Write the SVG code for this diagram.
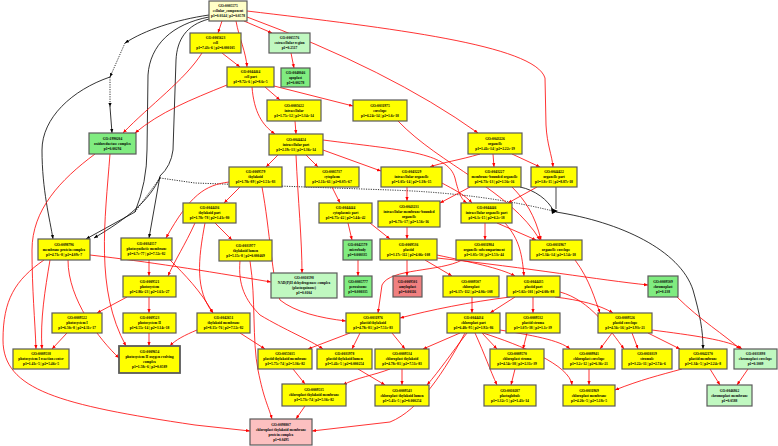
<svg xmlns="http://www.w3.org/2000/svg" width="778" height="446" viewBox="0 0 778 446">
<style>
rect{stroke:#5a5a5a;stroke-width:1.2}
.y{fill:#ffff00}.ly{fill:#ffffc8}.g{fill:#80ec80}.lg{fill:#c0f8c0}.s{fill:#f08080}.p{fill:#fcc0c0}
text{font-family:"Liberation Serif","Times New Roman",serif;font-size:3.6px;font-weight:bold;text-anchor:middle;fill:#000}
.r{fill:none;stroke:#ff0000;stroke-width:0.8;marker-end:url(#ar)}
.k{fill:none;stroke:#000;stroke-width:0.8}
.ka{marker-end:url(#ak)}
.d{stroke-dasharray:1.2 1.2}
</style>
<defs>
<marker id="ar" viewBox="0 0 10 10" refX="10" refY="5" markerWidth="4" markerHeight="4" markerUnits="userSpaceOnUse" orient="auto"><path d="M0,1L10,5L0,9z" fill="#ff0000"/></marker>
<marker id="ak" viewBox="0 0 10 10" refX="10" refY="5" markerWidth="4" markerHeight="4" markerUnits="userSpaceOnUse" orient="auto"><path d="M0,1L10,5L0,9z" fill="#000"/></marker>
</defs>
<rect x="0" y="0" width="778" height="446" fill="#fff" style="stroke:none"/>
<g id="edges">
<path class="k ka" d="M209 15 C175 20,145 30,125 43"/>
<path class="k d ka" d="M125 43 L110 77"/>
<path class="k d ka" d="M110 77 L110 107"/>
<path class="k ka" d="M110 107 L112 133"/>
<path class="k ka" d="M110 77 C72 90,42 118,42 150 C42 190,50 220,53 239"/>
<path class="k" d="M209 17 C172 24,150 45,148 75 L147 150 Q147 182,135 212"/>
<path class="k ka" d="M135 212 L86 239"/>
<path class="k" d="M209 19 C186 25,177 40,176 60 L173 150 Q171 166,160 176"/>
<path class="k ka" d="M160 176 L149 238"/>
<path class="k ka" d="M160 177 C150 200,128 218,94 238"/>
<path class="k d" d="M160 178 L135 212"/>
<path class="k d" d="M160 178 L195 183 L390 190 Q480 193,553 211"/>
<path class="k" d="M520 187 C535 190,548 200,553 210"/>
<path class="k" d="M556 187 L556 209" style="stroke:#555;stroke-width:1.1"/>
<path d="M551 208 L558 211 L552 214z" fill="#000"/>
<path class="k ka" d="M556 212 C620 222,680 250,693 290 C700 315,703 330,703 349"/>
<path class="r" d="M222 21 L218 33"/>
<path class="r" d="M244 21 L272 33"/>
<path class="r" d="M236 21 C239 38,246 52,247 67"/>
<path class="r" d="M247 17 Q390 70,478 133"/>
<path class="r" d="M247 11 C390 28,535 45,545 78 L546 125 C547 145,552 155,553 167"/>
<path class="r" d="M222 53 L240 67"/>
<path class="r" d="M202 53 C185 80,150 105,123 133"/>
<path class="r" d="M227 85 C190 100,160 112,135 133"/>
<path class="r" d="M265 87 L280 100"/>
<path class="r" d="M252 87 C254 112,262 125,275 134"/>
<path class="r" d="M274 86 L353 106"/>
<path class="r" d="M291 53 L294 68"/>
<path class="r" d="M295 121 L296 134"/>
<path class="r" d="M398 121 C440 165,510 190,540 240"/>
<path class="r" d="M278 155 L266 167"/>
<path class="r" d="M306 155 L318 167"/>
<path class="r" d="M296 155 C298 200,302 240,302 273"/>
<path class="r" d="M323 150 L381 171"/>
<path class="r" d="M323 140 C400 150,448 152,455 178 C459 195,462 200,467 203"/>
<path class="r" d="M480 154 C460 160,440 163,430 167"/>
<path class="r" d="M493 154 L494 167"/>
<path class="r" d="M512 154 L540 167"/>
<path class="r" d="M240 187 L224 203"/>
<path class="r" d="M229 182 C205 185,190 195,166 238"/>
<path class="r" d="M262 187 C270 230,272 280,280 300 C295 312,320 318,346 321"/>
<path class="r" d="M332 187 L340 203"/>
<path class="r" d="M407 187 L407 201"/>
<path class="r" d="M440 182 C455 190,465 195,472 203"/>
<path class="r" d="M470 187 L440 203"/>
<path class="r" d="M537 187 L508 203"/>
<path class="r" d="M485 223 L485 240"/>
<path class="r" d="M497 223 L536 240"/>
<path class="r" d="M512 187 C525 200,535 215,541 240"/>
<path class="r" d="M348 223 L352 240"/>
<path class="r" d="M370 223 L390 239"/>
<path class="r" d="M407 227 L407 239"/>
<path class="r" d="M505 223 C520 240,522 255,524 276"/>
<path class="r" d="M437 255 C470 262,500 268,515 276"/>
<path class="r" d="M407 260 L407 276"/>
<path class="r" d="M425 260 L452 276"/>
<path class="r" d="M437 258 C530 268,600 280,648 285"/>
<path class="r" d="M358 260 L358 276"/>
<path class="r" d="M462 260 C440 272,390 268,382 285 L378 313"/>
<path class="r" d="M510 297 C470 302,430 310,400 318"/>
<path class="r" d="M472 297 L472 313"/>
<path class="r" d="M515 297 L490 313"/>
<path class="r" d="M533 297 L533 313"/>
<path class="r" d="M555 297 C580 300,600 305,613 313"/>
<path class="r" d="M575 260 C590 280,595 300,600 313"/>
<path class="r" d="M560 292 C590 300,610 330,624 349"/>
<path class="r" d="M677 297 C700 320,725 335,740 349"/>
<path class="r" d="M612 333 L600 349"/>
<path class="r" d="M632 333 L638 349"/>
<path class="r" d="M648 333 L680 349"/>
<path class="r" d="M652 330 C690 335,730 340,742 349"/>
<path class="r" d="M460 333 L423 349"/>
<path class="r" d="M482 333 L497 349"/>
<path class="r" d="M527 333 L523 349"/>
<path class="r" d="M500 330 C530 335,560 340,570 349"/>
<path class="r" d="M475 333 C485 355,490 370,497 385"/>
<path class="r" d="M515 369 L511 385"/>
<path class="r" d="M467 333 C450 355,440 370,427 385"/>
<path class="r" d="M483 333 C520 345,570 365,572 385"/>
<path class="r" d="M465 333 C445 370,420 410,390 422 L312 431"/>
<path class="r" d="M589 369 L589 385"/>
<path class="r" d="M682 369 C660 375,640 380,615 390"/>
<path class="r" d="M710 369 L720 385"/>
<path class="r" d="M748 369 L737 385"/>
<path class="r" d="M402 369 L402 385"/>
<path class="r" d="M390 369 C375 375,355 378,343 385"/>
<path class="r" d="M392 333 L405 349"/>
<path class="r" d="M350 333 L308 349"/>
<path class="r" d="M360 333 L352 349"/>
<path class="r" d="M240 333 L265 349"/>
<path class="r" d="M240 261 C238 285,245 300,260 315 C285 330,310 340,323 349"/>
<path class="r" d="M250 261 C256 300,252 340,258 370 S268 405,272 419"/>
<path class="r" d="M293 369 L305 384"/>
<path class="r" d="M358 369 L385 385"/>
<path class="r" d="M305 406 L296 419"/>
<path class="r" d="M44 260 C15 280,3 300,3 340 C3 390,60 405,195 425 L250 431"/>
<path class="r" d="M90 255 C150 262,200 270,271 282"/>
<path class="r" d="M50 260 C45 290,40 320,42 349"/>
<path class="r" d="M95 154 C60 180,32 210,32 250 C32 290,35 320,36 349"/>
<path class="r" d="M67 333 L52 349"/>
<path class="r" d="M127 297 L97 313"/>
<path class="r" d="M149 297 L149 313"/>
<path class="r" d="M149 260 L149 276"/>
<path class="r" d="M195 223 C185 245,175 260,168 276"/>
<path class="r" d="M170 260 C185 275,200 290,213 313"/>
<path class="r" d="M149 333 L149 346"/>
<path class="r" d="M68 260 C68 300,100 340,119 358"/>
<path class="r" d="M110 154 C105 220,95 290,126 346"/>
<path class="r" d="M197 330 C185 335,175 340,170 346"/>
<path class="r" d="M205 223 C198 260,195 290,213 313"/>
<path class="r" d="M215 223 L232 240"/>
</g>
<g id="GO0005575"><rect class="ly" x="209" y="1" width="38" height="20"/><text x="228"><tspan x="228" y="7.25">GO:0005575</tspan><tspan x="228" y="12.25">cellular_component</tspan><tspan x="228" y="17.25">p1=0.0144 | p2=0.0578</tspan></text></g>
<g id="GO0005623"><rect class="y" x="190" y="33" width="51" height="20"/><text><tspan x="215.5" y="39.25">GO:0005623</tspan><tspan x="215.5" y="44.25">cell</tspan><tspan x="215.5" y="49.25">p1=7.43e-6 | p2=0.000105</tspan></text></g>
<g id="GO0005576"><rect class="lg" x="269" y="33" width="41" height="20"/><text><tspan x="289.5" y="39.25">GO:0005576</tspan><tspan x="289.5" y="44.25">extracellular region</tspan><tspan x="289.5" y="49.25">p1=0.2517</tspan></text></g>
<g id="GO0044464"><rect class="y" x="227" y="67" width="47" height="20"/><text><tspan x="250.5" y="73.25">GO:0044464</tspan><tspan x="250.5" y="78.25">cell part</tspan><tspan x="250.5" y="83.25">p1=9.72e-6 | p2=8.6e-5</tspan></text></g>
<g id="GO0048046"><rect class="g" x="281" y="68" width="29" height="19"/><text><tspan x="295.5" y="73.75">GO:0048046</tspan><tspan x="295.5" y="78.75">apoplast</tspan><tspan x="295.5" y="83.75">p1=0.00278</tspan></text></g>
<g id="GO0005622"><rect class="y" x="267" y="100" width="54" height="21"/><text><tspan x="294" y="106.75">GO:0005622</tspan><tspan x="294" y="111.75">intracellular</tspan><tspan x="294" y="116.75">p1=1.75e-12 | p2=5.34e-14</tspan></text></g>
<g id="GO0031975"><rect class="y" x="353" y="100" width="54" height="21"/><text><tspan x="380" y="106.75">GO:0031975</tspan><tspan x="380" y="111.75">envelope</tspan><tspan x="380" y="116.75">p1=6.24e-14 | p2=1.6e-18</tspan></text></g>
<g id="GO1990204"><rect class="g" x="89" y="133" width="47" height="21"/><text><tspan x="112.5" y="139.75">GO:1990204</tspan><tspan x="112.5" y="144.75">oxidoreductase complex</tspan><tspan x="112.5" y="149.75">p1=0.00294</tspan></text></g>
<g id="GO0044424"><rect class="y" x="269" y="134" width="54" height="21"/><text><tspan x="296" y="140.75">GO:0044424</tspan><tspan x="296" y="145.75">intracellular part</tspan><tspan x="296" y="150.75">p1=2.19e-13 | p2=1.36e-14</tspan></text></g>
<g id="GO0043226"><rect class="y" x="468" y="133" width="54" height="21"/><text><tspan x="495" y="139.75">GO:0043226</tspan><tspan x="495" y="144.75">organelle</tspan><tspan x="495" y="149.75">p1=1.41e-14 | p2=2.22e-19</tspan></text></g>
<g id="GO0009579"><rect class="y" x="229" y="167" width="53" height="20"/><text><tspan x="255.5" y="173.25">GO:0009579</tspan><tspan x="255.5" y="178.25">thylakoid</tspan><tspan x="255.5" y="183.25">p1=1.78e-89 | p2=1.51e-83</tspan></text></g>
<g id="GO0005737"><rect class="y" x="305" y="167" width="54" height="20"/><text><tspan x="332" y="173.25">GO:0005737</tspan><tspan x="332" y="178.25">cytoplasm</tspan><tspan x="332" y="183.25">p1=2.11e-61 | p2=8.07e-67</tspan></text></g>
<g id="GO0043229"><rect class="y" x="381" y="167" width="61" height="20"/><text><tspan x="411.5" y="173.25">GO:0043229</tspan><tspan x="411.5" y="178.25">intracellular organelle</tspan><tspan x="411.5" y="183.25">p1=1.05e-14 | p2=1.18e-15</tspan></text></g>
<g id="GO0043227"><rect class="y" x="468" y="167" width="53" height="20"/><text><tspan x="494.5" y="173.25">GO:0043227</tspan><tspan x="494.5" y="178.25">membrane-bounded organelle</tspan><tspan x="494.5" y="183.25">p1=6.73e-13 | p2=1.56e-16</tspan></text></g>
<g id="GO0044422"><rect class="y" x="531" y="167" width="46" height="20"/><text><tspan x="554" y="173.25">GO:0044422</tspan><tspan x="554" y="178.25">organelle part</tspan><tspan x="554" y="183.25">p1=1.8e-15 | p2=8.87e-18</tspan></text></g>
<g id="GO0044436"><rect class="y" x="183" y="203" width="53" height="20"/><text><tspan x="209.5" y="209.25">GO:0044436</tspan><tspan x="209.5" y="214.25">thylakoid part</tspan><tspan x="209.5" y="219.25">p1=1.78e-78 | p2=1.41e-80</tspan></text></g>
<g id="GO0044444"><rect class="y" x="319" y="203" width="53" height="20"/><text><tspan x="345.5" y="209.25">GO:0044444</tspan><tspan x="345.5" y="214.25">cytoplasmic part</tspan><tspan x="345.5" y="219.25">p1=6.75e-42 | p2=5.44e-42</tspan></text></g>
<g id="GO0043231"><rect class="y" x="378" y="201" width="62" height="26"/><text><tspan x="409" y="207.75">GO:0043231</tspan><tspan x="409" y="212.75">intracellular membrane-bounded</tspan><tspan x="409" y="217.75">organelle</tspan><tspan x="409" y="222.75">p1=6.73e-17 | p2=1.56e-16</tspan></text></g>
<g id="GO0044446"><rect class="y" x="461" y="203" width="51" height="20"/><text><tspan x="486.5" y="209.25">GO:0044446</tspan><tspan x="486.5" y="214.25">intracellular organelle part</tspan><tspan x="486.5" y="219.25">p1=6.1e-15 | p2=6.2e-18</tspan></text></g>
<g id="GO0098796"><rect class="y" x="38" y="239" width="52" height="21"/><text><tspan x="64" y="245.75">GO:0098796</tspan><tspan x="64" y="250.75">membrane protein complex</tspan><tspan x="64" y="255.75">p1=4.71e-8 | p2=4.09e-7</tspan></text></g>
<g id="GO0034357"><rect class="y" x="121" y="238" width="51" height="22"/><text><tspan x="146.5" y="245.25">GO:0034357</tspan><tspan x="146.5" y="250.25">photosynthetic membrane</tspan><tspan x="146.5" y="255.25">p1=6.7e-77 | p2=7.52e-82</tspan></text></g>
<g id="GO0031977"><rect class="y" x="219" y="240" width="53" height="21"/><text><tspan x="245.5" y="246.75">GO:0031977</tspan><tspan x="245.5" y="251.75">thylakoid lumen</tspan><tspan x="245.5" y="256.75">p1=5.15e-8 | p2=0.000469</tspan></text></g>
<g id="GO0042579"><rect class="g" x="343" y="240" width="29" height="20"/><text><tspan x="357.5" y="246.25">GO:0042579</tspan><tspan x="357.5" y="251.25">microbody</tspan><tspan x="357.5" y="256.25">p1=0.000335</tspan></text></g>
<g id="GO0009536"><rect class="y" x="380" y="239" width="57" height="21"/><text><tspan x="408.5" y="245.75">GO:0009536</tspan><tspan x="408.5" y="250.75">plastid</tspan><tspan x="408.5" y="255.75">p1=3.17e-112 | p2=4.06e-108</tspan></text></g>
<g id="GO0031984"><rect class="y" x="456" y="240" width="56" height="20"/><text><tspan x="484" y="246.25">GO:0031984</tspan><tspan x="484" y="251.25">organelle subcompartment</tspan><tspan x="484" y="256.25">p1=1.05e-50 | p2=1.53e-44</tspan></text></g>
<g id="GO0031967"><rect class="y" x="530" y="240" width="52" height="20"/><text><tspan x="556" y="246.25">GO:0031967</tspan><tspan x="556" y="251.25">organelle envelope</tspan><tspan x="556" y="256.25">p1=5.34e-14 | p2=1.54e-18</tspan></text></g>
<g id="GO0009521"><rect class="y" x="123" y="276" width="53" height="21"/><text><tspan x="149.5" y="282.75">GO:0009521</tspan><tspan x="149.5" y="287.75">photosystem</tspan><tspan x="149.5" y="292.75">p1=2.86e-23 | p2=1.61e-27</tspan></text></g>
<g id="GO0010598"><rect class="lg" x="271" y="273" width="66" height="25"/><text><tspan x="304" y="279.25">GO:0010598</tspan><tspan x="304" y="284.25">NAD(P)H dehydrogenase complex</tspan><tspan x="304" y="289.25">(plastoquinone)</tspan><tspan x="304" y="294.25">p1=0.0104</tspan></text></g>
<g id="GO0005777"><rect class="g" x="344" y="276" width="28" height="21"/><text><tspan x="358" y="282.75">GO:0005777</tspan><tspan x="358" y="287.75">peroxisome</tspan><tspan x="358" y="292.75">p1=0.000335</tspan></text></g>
<g id="GO0009501"><rect class="s" x="393" y="276" width="29" height="21"/><text><tspan x="407.5" y="282.75">GO:0009501</tspan><tspan x="407.5" y="287.75">amyloplast</tspan><tspan x="407.5" y="292.75">p1=0.00116</tspan></text></g>
<g id="GO0009507"><rect class="y" x="443" y="276" width="56" height="21"/><text><tspan x="471" y="282.75">GO:0009507</tspan><tspan x="471" y="287.75">chloroplast</tspan><tspan x="471" y="292.75">p1=6.17e-112 | p2=4.06e-108</tspan></text></g>
<g id="GO0044435"><rect class="y" x="507" y="276" width="53" height="21"/><text><tspan x="533.5" y="282.75">GO:0044435</tspan><tspan x="533.5" y="287.75">plastid part</tspan><tspan x="533.5" y="292.75">p1=5.02e-101 | p2=4.08e-88</tspan></text></g>
<g id="GO0009509"><rect class="g" x="648" y="276" width="30" height="21"/><text><tspan x="663" y="282.75">GO:0009509</tspan><tspan x="663" y="287.75">chromoplast</tspan><tspan x="663" y="292.75">p1=0.138</tspan></text></g>
<g id="GO0009522"><rect class="y" x="52" y="313" width="50" height="20"/><text><tspan x="77" y="319.25">GO:0009522</tspan><tspan x="77" y="324.25">photosystem I</tspan><tspan x="77" y="329.25">p1=6.50e-8 | p2=4.11e-17</tspan></text></g>
<g id="GO0009523"><rect class="y" x="123" y="313" width="53" height="20"/><text><tspan x="149.5" y="319.25">GO:0009523</tspan><tspan x="149.5" y="324.25">photosystem II</tspan><tspan x="149.5" y="329.25">p1=6.55e-14 | p2=3.14e-18</tspan></text></g>
<g id="GO0042651"><rect class="y" x="197" y="313" width="53" height="20"/><text><tspan x="223.5" y="319.25">GO:0042651</tspan><tspan x="223.5" y="324.25">thylakoid membrane</tspan><tspan x="223.5" y="329.25">p1=8.15e-76 | p2=7.52e-82</tspan></text></g>
<g id="GO0031976"><rect class="y" x="346" y="313" width="54" height="20"/><text><tspan x="373" y="319.25">GO:0031976</tspan><tspan x="373" y="324.25">plastid thylakoid</tspan><tspan x="373" y="329.25">p1=4.78e-81 | p2=7.51e-83</tspan></text></g>
<g id="GO0044434"><rect class="y" x="447" y="313" width="53" height="20"/><text><tspan x="473.5" y="319.25">GO:0044434</tspan><tspan x="473.5" y="324.25">chloroplast part</tspan><tspan x="473.5" y="329.25">p1=6.48e-95 | p2=1.92e-86</tspan></text></g>
<g id="GO0009532"><rect class="y" x="506" y="313" width="54" height="20"/><text><tspan x="533" y="319.25">GO:0009532</tspan><tspan x="533" y="324.25">plastid stroma</tspan><tspan x="533" y="329.25">p1=1.07e-38 | p2=1.1e-39</tspan></text></g>
<g id="GO0009526"><rect class="y" x="598" y="313" width="54" height="20"/><text><tspan x="625" y="319.25">GO:0009526</tspan><tspan x="625" y="324.25">plastid envelope</tspan><tspan x="625" y="329.25">p1=4.56e-16 | p2=1.93e-21</tspan></text></g>
<g id="GO0009538"><rect class="y" x="13" y="349" width="56" height="20"/><text><tspan x="41" y="355.25">GO:0009538</tspan><tspan x="41" y="360.25">photosystem I reaction center</tspan><tspan x="41" y="365.25">p1=1.41e-5 | p2=5.46e-5</tspan></text></g>
<g id="GO0009654"><rect class="y" x="119" y="346" width="61" height="27" style="stroke-width:1.8"/><text><tspan x="149.5" y="353.25">GO:0009654</tspan><tspan x="149.5" y="358.25">photosystem II oxygen evolving</tspan><tspan x="149.5" y="363.25">complex</tspan><tspan x="149.5" y="368.25">p1=1.58e-6 | p2=0.0589</tspan></text></g>
<g id="GO0055035"><rect class="y" x="258" y="349" width="54" height="20"/><text><tspan x="285" y="355.25">GO:0055035</tspan><tspan x="285" y="360.25">plastid thylakoid membrane</tspan><tspan x="285" y="365.25">p1=5.75e-74 | p2=5.36e-82</tspan></text></g>
<g id="GO0031978"><rect class="y" x="317" y="349" width="55" height="20"/><text><tspan x="344.5" y="355.25">GO:0031978</tspan><tspan x="344.5" y="360.25">plastid thylakoid lumen</tspan><tspan x="344.5" y="365.25">p1=5.41e-5 | p2=0.000254</tspan></text></g>
<g id="GO0009534"><rect class="y" x="375" y="349" width="54" height="20"/><text><tspan x="402" y="355.25">GO:0009534</tspan><tspan x="402" y="360.25">chloroplast thylakoid</tspan><tspan x="402" y="365.25">p1=4.78e-81 | p2=7.51e-83</tspan></text></g>
<g id="GO0009570"><rect class="y" x="490" y="349" width="54" height="20"/><text><tspan x="517" y="355.25">GO:0009570</tspan><tspan x="517" y="360.25">chloroplast stroma</tspan><tspan x="517" y="365.25">p1=4.54e-38 | p2=2.31e-39</tspan></text></g>
<g id="GO0009941"><rect class="y" x="563" y="349" width="52" height="20"/><text><tspan x="589" y="355.25">GO:0009941</tspan><tspan x="589" y="360.25">chloroplast envelope</tspan><tspan x="589" y="365.25">p1=3.2e-12 | p2=6.36e-21</tspan></text></g>
<g id="GO0010319"><rect class="y" x="622" y="349" width="50" height="20"/><text><tspan x="647" y="355.25">GO:0010319</tspan><tspan x="647" y="360.25">stromule</tspan><tspan x="647" y="365.25">p1=3.22e-11 | p2=2.74e-6</tspan></text></g>
<g id="GO0042170"><rect class="y" x="679" y="349" width="48" height="20"/><text><tspan x="703" y="355.25">GO:0042170</tspan><tspan x="703" y="360.25">plastid membrane</tspan><tspan x="703" y="365.25">p1=1.34e-5 | p2=2.24e-8</tspan></text></g>
<g id="GO0031898"><rect class="lg" x="734" y="349" width="43" height="20"/><text><tspan x="755.5" y="355.25">GO:0031898</tspan><tspan x="755.5" y="360.25">chromoplast envelope</tspan><tspan x="755.5" y="365.25">p1=0.1009</tspan></text></g>
<g id="GO0009535"><rect class="y" x="282" y="384" width="64" height="22"/><text><tspan x="314" y="391.25">GO:0009535</tspan><tspan x="314" y="396.25">chloroplast thylakoid membrane</tspan><tspan x="314" y="401.25">p1=5.73e-74 | p2=5.36e-82</tspan></text></g>
<g id="GO0009543"><rect class="y" x="375" y="385" width="54" height="21"/><text><tspan x="402" y="391.75">GO:0009543</tspan><tspan x="402" y="396.75">chloroplast thylakoid lumen</tspan><tspan x="402" y="401.75">p1=5.41e-5 | p2=0.000254</tspan></text></g>
<g id="GO0010287"><rect class="y" x="484" y="385" width="52" height="21"/><text><tspan x="510" y="391.75">GO:0010287</tspan><tspan x="510" y="396.75">plastoglobule</tspan><tspan x="510" y="401.75">p1=1.32e-5 | p2=1.43e-14</tspan></text></g>
<g id="GO0031969"><rect class="y" x="563" y="385" width="52" height="21"/><text><tspan x="589" y="391.75">GO:0031969</tspan><tspan x="589" y="396.75">chloroplast membrane</tspan><tspan x="589" y="401.75">p1=4.20e-5 | p2=5.18e-5</tspan></text></g>
<g id="GO0046862"><rect class="lg" x="707" y="385" width="45" height="21"/><text><tspan x="729.5" y="391.75">GO:0046862</tspan><tspan x="729.5" y="396.75">chromoplast membrane</tspan><tspan x="729.5" y="401.75">p1=0.0588</tspan></text></g>
<g id="GO0098807"><rect class="p" x="250" y="419" width="62" height="26"/><text><tspan x="281" y="425.75">GO:0098807</tspan><tspan x="281" y="430.75">chloroplast thylakoid membrane</tspan><tspan x="281" y="435.75">protein complex</tspan><tspan x="281" y="440.75">p1=0.0495</tspan></text></g>
</svg>
